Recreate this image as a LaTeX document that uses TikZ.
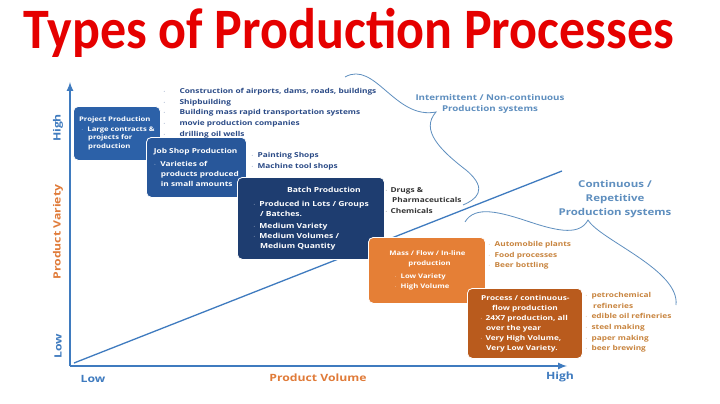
\documentclass[tikz,border=0pt]{standalone}
\usepackage{fontspec}
\setmainfont{Open Sans}[FakeStretch=1.22]
\newfontfamily\titlefont{Carlito}
\begin{document}
\begin{tikzpicture}[x=1pt,y=-1pt,font=\bfseries]
\definecolor{ax}{HTML}{3F7BBF}
\definecolor{org}{HTML}{E07B39}
\definecolor{b1}{HTML}{2C61A8}
\definecolor{b2}{HTML}{28579A}
\definecolor{b3}{HTML}{1E3D70}
\definecolor{o1}{HTML}{E57F36}
\definecolor{o2}{HTML}{B95B1D}
\definecolor{ex}{HTML}{2A4A86}
\definecolor{exo}{HTML}{C8843E}
\definecolor{br}{HTML}{5F8FBF}
\tikzset{box/.style={rounded corners=5pt,draw=white,line width=0.8pt,inner sep=3pt,text=white,align=left,anchor=north west},
ex/.style={anchor=north west,align=left,font=\bfseries\fontsize{6.8}{10.7}\selectfont,inner sep=0pt},
lbl/.style={font=\bfseries\fontsize{10}{11}\selectfont,text=ax,align=center},
arr/.style={draw=ax,line width=2pt,-latex}}
\fill[white] (0,0) rectangle (720,404);
\useasboundingbox (0,0) rectangle (720,404);
\node[text=red!90!black,font=\titlefont\bfseries\fontsize{52}{52}\selectfont,anchor=west,yscale=1.1] (title) at (20,33) {Types of Production Processes};
\coordinate (o) at (70,366);
\coordinate (yt) at (70,82);
\coordinate (xt) at (567,366);
\draw[arr] (o) -- (yt);
\draw[arr] (o) -- (xt);
\coordinate (d0) at (74,363);
\coordinate (d1) at (562,171);
\draw[ax,line width=1.3pt] (d0) -- (d1);
\node[lbl,rotate=90] (yh) at (58,128) {High};
\node[lbl,rotate=90,text=org] (yv) at (58,232) {Product Variety};
\node[lbl,rotate=90] (yl) at (58,346) {Low};
\node[lbl] (xl) at (93,379) {Low};
\node[lbl,text=org] (xv) at (318,378) {Product Volume};
\node[lbl] (xh) at (560,377) {High};
% boxes
\node[box,fill=b1,minimum width=87pt,minimum height=54pt,font=\bfseries\fontsize{6.3}{8.4}\selectfont] (p) at (73,106) {Project Production\\[1pt]\hspace{2pt}$\cdot$\hspace{4pt}Large contracts \&\\\hspace{9pt}projects for\\\hspace{9pt}production};
\node[box,fill=b2,minimum width=100pt,minimum height=60pt,font=\bfseries\fontsize{6.8}{9.8}\selectfont] (j) at (146,137) {Job Shop Production\\[3pt]$\cdot$\hspace{4pt}Varieties of\\\hspace{7pt}products produced\\\hspace{7pt}in small amounts};
\node[box,fill=b3,minimum width=147pt,minimum height=82pt,font=\bfseries\fontsize{7}{10}\selectfont] (b) at (237,177) {\hspace{34pt}Batch Production\\[4pt]$\cdot$\hspace{4pt}Produced in Lots / Groups\\\hspace{7pt}/ Batches.\\[2pt]$\cdot$\hspace{4pt}Medium Variety\\$\cdot$\hspace{4pt}Medium Volumes /\\\hspace{7pt}Medium Quantity};
\node[box,fill=o1,minimum width=117pt,minimum height=66pt,font=\bfseries\fontsize{6.3}{9.8}\selectfont] (m) at (368,237) {\hspace{1pt}Mass / Flow / In-line\\\hspace{20pt}production\\[3pt]\hspace{6pt}$\cdot$\hspace{4pt}Low Variety\\\hspace{6pt}$\cdot$\hspace{4pt}High Volume};
\node[box,fill=o2,minimum width=115pt,minimum height=70pt,font=\bfseries\fontsize{6.8}{10}\selectfont,inner sep=2pt] (pc) at (467,288) {\hspace{1pt}Process / continuous-\\\hspace{12pt}flow production\\$\cdot$\hspace{3pt}24X7 production, all\\\hspace{6pt}over the year\\$\cdot$\hspace{3pt}Very High Volume,\\\hspace{6pt}Very Low Variety.};
% examples
\node[ex,text=ex] (e1) at (163,88) {$\cdot$\hspace{14pt}Construction of airports, dams, roads, buildings\\$\cdot$\hspace{14pt}Shipbuilding\\$\cdot$\hspace{14pt}Building mass rapid transportation systems\\$\cdot$\hspace{14pt}movie production companies\\$\cdot$\hspace{14pt}drilling oil wells};
\node[ex,text=ex] (e2) at (251,152) {$\cdot$\hspace{4pt}Painting Shops\\$\cdot$\hspace{4pt}Machine tool shops};
\node[ex,text=black!80] (e3) at (385,187) {$\cdot$\hspace{3pt}Drugs \&\\\hspace{7pt}Pharmaceuticals\\$\cdot$\hspace{3pt}Chemicals};
\node[ex,text=exo] (e4) at (488,241) {$\cdot$\hspace{4pt}Automobile plants\\$\cdot$\hspace{4pt}Food processes\\$\cdot$\hspace{4pt}Beer bottling};
\node[ex,text=exo] (e5) at (585,292) {$\cdot$\hspace{4pt}petrochemical\\\hspace{8pt}refineries\\$\cdot$\hspace{4pt}edible oil refineries\\$\cdot$\hspace{4pt}steel making\\$\cdot$\hspace{4pt}paper making\\$\cdot$\hspace{4pt}beer brewing};
% system labels
\node[lbl,text=br,font=\bfseries\fontsize{8}{11}\selectfont] (s1) at (490,104) {Intermittent / Non-continuous\\Production systems};
\node[lbl,text=br,font=\bfseries\fontsize{9.4}{14}\selectfont] (s2) at (615,199) {Continuous /\\Repetitive\\Production systems};
\coordinate (a0) at (345,77);
\coordinate (at) at (436,112);
\coordinate (a1) at (463,205);
\draw[br,line width=0.8pt] (a0) .. controls (375,60) and (395,120) .. (at) .. controls (420,130) and (440,150) .. (466,170) .. controls (490,190) and (475,200) .. (a1);
\coordinate (c0) at (465,222);
\coordinate (ct) at (588,220);
\coordinate (c1) at (676,305);
\draw[br,line width=0.8pt] (c0) .. controls (475,205) and (500,212) .. (530,222) .. controls (560,232) and (580,235) .. (ct) .. controls (600,240) and (680,270) .. (c1);
\end{tikzpicture}
\end{document}
